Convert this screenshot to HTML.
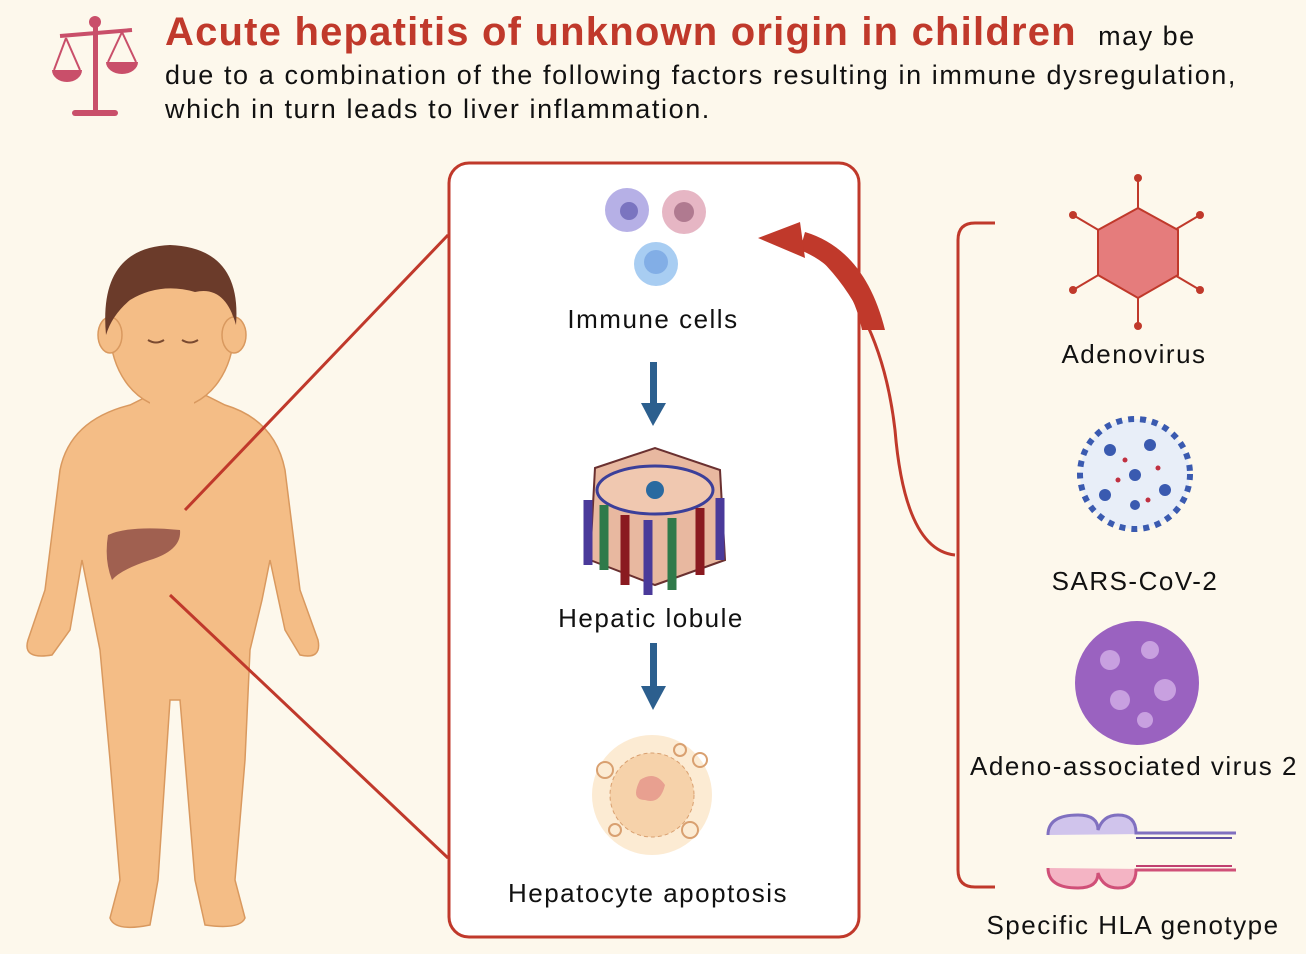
<!DOCTYPE html>
<html><head><meta charset="utf-8"><style>
body{margin:0;width:1306px;height:954px;background:#fdf8ec;overflow:hidden;font-family:"Liberation Sans",sans-serif;position:relative}
.t{position:absolute;white-space:nowrap;color:#111}
.lbl{font-size:26px;letter-spacing:1.5px;transform:translateX(-50%)}
</style></head><body>
<svg width="1306" height="954" style="position:absolute;left:0;top:0">
<g fill="#c94f6a" stroke="#c94f6a">
<rect x="93" y="20" width="5" height="92" stroke="none"/>
<rect x="72" y="110" width="46" height="6" rx="3" stroke="none"/>
<circle cx="95" cy="22" r="6" stroke="none"/>
<line x1="60" y1="36" x2="132" y2="30" stroke-width="4"/>
<line x1="66" y1="38" x2="54" y2="70" stroke-width="2"/><line x1="66" y1="38" x2="80" y2="70" stroke-width="2"/>
<line x1="122" y1="32" x2="108" y2="62" stroke-width="2"/><line x1="122" y1="32" x2="136" y2="62" stroke-width="2"/>
<path d="M52 70 h30 a15 12 0 0 1 -30 0z" stroke="none"/>
<path d="M106 62 h32 a16 12 0 0 1 -32 0z" stroke="none"/>
</g>
<g fill="#f4bd86" stroke="#d9995f" stroke-width="1.5">
<path d="M60 470 Q70 420 130 405 L150 395 L205 395 L225 405 Q275 420 285 470 L300 590 L318 640 Q322 660 300 655 L285 630 L270 560 L262 600 L250 650 L245 760 L235 880 L245 918 Q240 930 205 925 L195 880 L180 700 L170 700 L158 880 L150 925 Q115 932 110 918 L120 880 L110 760 L100 650 L90 600 L82 560 L70 630 L52 655 Q22 660 28 640 L45 590 Z"/>
<ellipse cx="172" cy="330" rx="62" ry="78"/>
<ellipse cx="110" cy="335" rx="12" ry="18"/><ellipse cx="234" cy="335" rx="12" ry="18"/>
<rect x="150" y="395" width="44" height="30" stroke="none"/>
</g>
<path d="M106 335 Q98 248 170 245 Q242 248 236 325 Q225 285 195 292 Q160 282 130 300 Q112 315 106 335z" fill="#6b3b2a"/>
<path d="M148 340 q8 5 16 0 M182 340 q8 5 16 0" stroke="#7a4a30" fill="none" stroke-width="2"/>
<path d="M108 535 Q130 525 180 530 Q182 550 150 560 Q120 570 112 580 Q104 560 108 535z" fill="#a06050"/>
<line x1="185" y1="510" x2="448" y2="235" stroke="#c0392b" stroke-width="3"/>
<line x1="170" y1="595" x2="448" y2="858" stroke="#c0392b" stroke-width="3"/>
<rect x="449" y="163" width="410" height="774" rx="20" fill="#fff" stroke="#c0392b" stroke-width="3"/>
<circle cx="627" cy="210" r="22" fill="#b6b0e6"/><circle cx="629" cy="211" r="9" fill="#7a74c0"/>
<circle cx="684" cy="212" r="22" fill="#e6b6c4"/><circle cx="684" cy="212" r="10" fill="#b07a90"/>
<circle cx="656" cy="264" r="22" fill="#a8cdf2"/><circle cx="656" cy="262" r="12" fill="#82aee6"/>
<g fill="#2c5f8e"><rect x="650" y="362" width="7" height="45"/><polygon points="641,403 666,403 653,426"/>
<rect x="650" y="643" width="7" height="47"/><polygon points="641,686 666,686 653,710"/></g>
<polygon points="595,468 655,448 720,470 725,560 655,585 590,560" fill="#e8b8a0" stroke="#6a3030" stroke-width="2"/>
<ellipse cx="655" cy="490" rx="58" ry="24" fill="#f0c8b0" stroke="#3b3f9a" stroke-width="3"/>
<circle cx="655" cy="490" r="9" fill="#2a6aa0"/>
<g stroke-width="9"><line x1="588" y1="500" x2="588" y2="565" stroke="#4a3a9a"/><line x1="604" y1="505" x2="604" y2="570" stroke="#2f7a4a"/><line x1="625" y1="515" x2="625" y2="585" stroke="#8a1a20"/><line x1="648" y1="520" x2="648" y2="595" stroke="#4a3a9a"/><line x1="672" y1="518" x2="672" y2="590" stroke="#2f7a4a"/><line x1="700" y1="508" x2="700" y2="575" stroke="#8a1a20"/><line x1="720" y1="498" x2="720" y2="560" stroke="#4a3a9a"/></g>
<circle cx="652" cy="795" r="60" fill="#fbe6c8" opacity="0.8"/>
<circle cx="652" cy="795" r="42" fill="#f6d2aa" stroke="#d9a070" stroke-dasharray="4 3"/>
<path d="M640 780 q15 -10 25 5 q-5 20 -20 15 q-15 0 -5 -20z" fill="#e8a090"/>
<g fill="none" stroke="#d9a070" stroke-width="2"><circle cx="605" cy="770" r="8"/><circle cx="700" cy="760" r="7"/><circle cx="690" cy="830" r="8"/><circle cx="615" cy="830" r="6"/><circle cx="680" cy="750" r="6"/></g>
<path d="M995 223 H975 Q958 223 958 240 V870 Q958 887 975 887 H995" fill="none" stroke="#c0392b" stroke-width="3"/>
<path d="M955 555 Q905 550 895 430 Q880 300 800 240" fill="none" stroke="#c0392b" stroke-width="3"/>
<path d="M862 330 Q850 270 800 250 L805 232 Q865 250 885 330 Z" fill="#c0392b"/>
<polygon points="758,238 800,222 805,258" fill="#c0392b"/>
<g stroke="#c0392b" stroke-width="2"><line x1="1138" y1="178" x2="1138" y2="326"/><line x1="1073" y1="215" x2="1200" y2="290"/><line x1="1200" y1="215" x2="1073" y2="290"/></g>
<g fill="#c0392b"><circle cx="1138" cy="178" r="4"/><circle cx="1138" cy="326" r="4"/><circle cx="1073" cy="215" r="4"/><circle cx="1200" cy="215" r="4"/><circle cx="1073" cy="290" r="4"/><circle cx="1200" cy="290" r="4"/></g>
<polygon points="1138,208 1178,230 1178,275 1138,298 1098,275 1098,230" fill="#e57c7c" stroke="#c0392b" stroke-width="2"/>
<circle cx="1135" cy="474" r="55" fill="#e8eef8" stroke="#3a5ab0" stroke-width="6" stroke-dasharray="6 6"/>
<g fill="#3a5ab0"><circle cx="1110" cy="450" r="6"/><circle cx="1150" cy="445" r="6"/><circle cx="1135" cy="475" r="6"/><circle cx="1105" cy="495" r="6"/><circle cx="1165" cy="490" r="6"/><circle cx="1135" cy="505" r="5"/></g>
<g fill="#c03040"><circle cx="1125" cy="460" r="2.5"/><circle cx="1158" cy="468" r="2.5"/><circle cx="1118" cy="480" r="2.5"/><circle cx="1148" cy="500" r="2.5"/></g>
<circle cx="1137" cy="683" r="62" fill="#9a62c0"/>
<g fill="#c8a0e0"><circle cx="1110" cy="660" r="10"/><circle cx="1150" cy="650" r="9"/><circle cx="1165" cy="690" r="11"/><circle cx="1120" cy="700" r="10"/><circle cx="1145" cy="720" r="8"/></g>
<path d="M1048 835 q0 -20 30 -20 q20 0 20 15 q5 -15 20 -15 q18 0 18 18 h100" fill="#d0c4ec" stroke="#8070c0" stroke-width="3"/>
<path d="M1048 868 q0 20 30 20 q20 0 20 -15 q5 15 20 15 q18 0 18 -18 h100" fill="#f4b4c4" stroke="#d05078" stroke-width="3"/>
<line x1="1136" y1="838" x2="1232" y2="838" stroke="#6050a0" stroke-width="2"/>
<line x1="1136" y1="866" x2="1232" y2="866" stroke="#c04070" stroke-width="2"/>
</svg>
<div class="t" style="left:165px;top:10px;font-size:40px;font-weight:bold;color:#c0392b;letter-spacing:1.2px">Acute hepatitis of unknown origin in children <span style="font-size:27px;font-weight:normal;color:#111;letter-spacing:1.5px">&nbsp;may be</span></div>
<div class="t" style="left:165px;top:60px;font-size:27px;letter-spacing:1.6px">due to a combination of the following factors resulting in immune dysregulation,</div>
<div class="t" style="left:165px;top:94px;font-size:27px;letter-spacing:1.6px">which in turn leads to liver inflammation.</div>
<div class="t lbl" style="left:653px;top:304px">Immune cells</div>
<div class="t lbl" style="left:651px;top:603px">Hepatic lobule</div>
<div class="t lbl" style="left:648px;top:878px">Hepatocyte apoptosis</div>
<div class="t lbl" style="left:1134px;top:339px">Adenovirus</div>
<div class="t lbl" style="left:1135px;top:566px">SARS-CoV-2</div>
<div class="t lbl" style="left:1134px;top:751px">Adeno-associated virus 2</div>
<div class="t lbl" style="left:1133px;top:910px">Specific HLA genotype</div>
</body></html>
